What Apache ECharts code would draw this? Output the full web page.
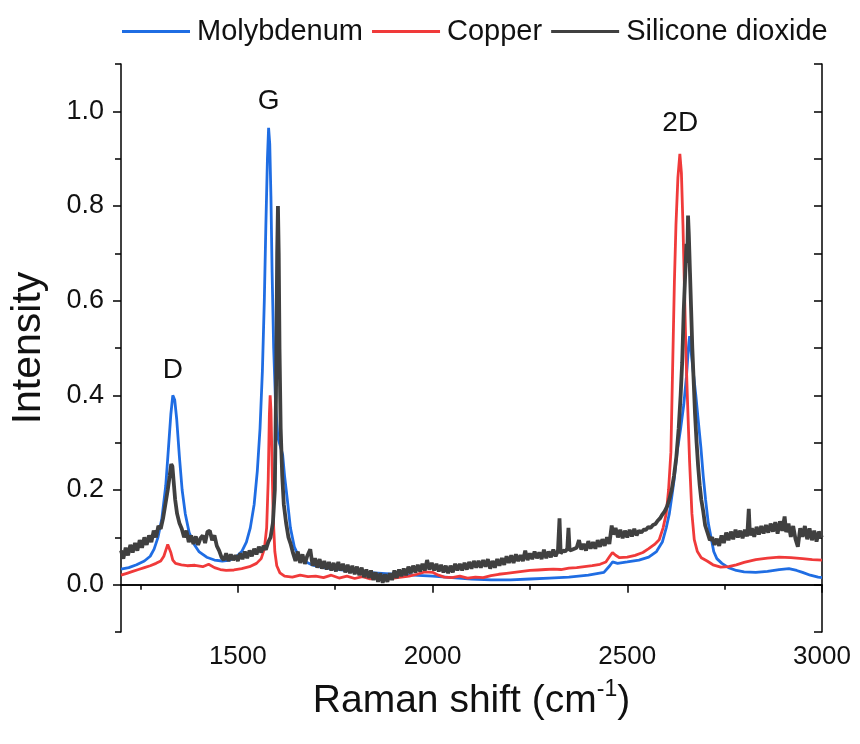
<!DOCTYPE html>
<html>
<head>
<meta charset="utf-8">
<script src="https://cdn.jsdelivr.net/npm/echarts@6/dist/echarts.min.js"></script>
<style>html,body{margin:0;padding:0;background:#fff}#c{width:860px;height:744px}</style>
</head>
<body>
<div id="c"></div>
<script>
// ---------- data ----------
var seriesNames = ['Molybdenum', 'Copper', 'Silicone dioxide'];

var molyX = [1200,1220,1240,1260,1275,1285,1295,1305,1315,1322,1328,1333,1338,1343,1350,1357,1365,1375,1388,1400,1420,1440,1460,1480,1495,1510,1522,1532,1542,1550,1557,1563,1568,1572,1576,1579,1582,1585,1588,1592,1597,1603,1610,1615,1620,1627,1635,1645,1655,1670,1690,1720,1760,1800,1850,1900,1950,2000,2050,2100,2150,2200,2250,2300,2350,2400,2440,2455,2462,2475,2500,2530,2555,2575,2590,2600,2608,2615,2620,2628,2637,2645,2652,2657,2660,2663,2668,2676,2683,2689,2695,2701,2708,2715,2722,2730,2743,2760,2780,2800,2830,2860,2890,2915,2935,2950,2970,2990,3000];
var molyY = [0.033,0.036,0.042,0.05,0.06,0.075,0.10,0.14,0.21,0.29,0.36,0.40,0.39,0.35,0.27,0.20,0.15,0.11,0.085,0.07,0.058,0.052,0.05,0.052,0.058,0.07,0.09,0.12,0.17,0.24,0.33,0.45,0.60,0.76,0.90,0.965,0.93,0.82,0.66,0.50,0.38,0.31,0.29,0.275,0.23,0.18,0.12,0.08,0.062,0.05,0.042,0.036,0.032,0.028,0.025,0.022,0.02,0.018,0.015,0.012,0.01,0.01,0.012,0.014,0.016,0.02,0.026,0.04,0.048,0.045,0.048,0.052,0.058,0.07,0.09,0.12,0.15,0.19,0.22,0.28,0.33,0.38,0.44,0.50,0.525,0.50,0.46,0.40,0.34,0.29,0.23,0.18,0.13,0.10,0.07,0.055,0.045,0.036,0.03,0.027,0.026,0.028,0.032,0.034,0.03,0.026,0.02,0.016,0.015];

var copperX = [1200,1215,1230,1245,1260,1275,1290,1302,1310,1316,1320,1324,1328,1333,1340,1355,1370,1390,1410,1425,1440,1455,1470,1490,1510,1530,1548,1560,1568,1574,1578,1581,1583,1585,1588,1591,1595,1600,1608,1620,1640,1660,1680,1700,1720,1740,1760,1780,1800,1820,1840,1860,1880,1900,1920,1940,1960,1980,2000,2015,2030,2050,2070,2090,2110,2130,2150,2170,2190,2210,2230,2250,2270,2290,2310,2330,2350,2370,2390,2410,2430,2445,2455,2462,2470,2480,2500,2520,2540,2555,2570,2582,2592,2600,2606,2612,2615,2618,2621,2625,2630,2635,2639,2643,2647,2651,2655,2660,2666,2672,2680,2690,2705,2720,2740,2760,2780,2800,2830,2860,2890,2920,2950,2975,3000];
var copperY = [0.02,0.024,0.028,0.032,0.036,0.04,0.045,0.05,0.06,0.075,0.085,0.082,0.068,0.052,0.045,0.042,0.04,0.041,0.038,0.043,0.036,0.032,0.03,0.031,0.034,0.038,0.045,0.055,0.075,0.12,0.22,0.36,0.40,0.37,0.25,0.14,0.07,0.04,0.025,0.018,0.016,0.02,0.017,0.018,0.015,0.02,0.014,0.018,0.013,0.017,0.012,0.015,0.011,0.014,0.016,0.018,0.022,0.027,0.026,0.02,0.016,0.015,0.018,0.014,0.016,0.015,0.019,0.022,0.024,0.026,0.028,0.03,0.031,0.032,0.033,0.032,0.035,0.036,0.038,0.04,0.043,0.048,0.06,0.068,0.062,0.057,0.058,0.062,0.068,0.076,0.085,0.095,0.12,0.15,0.2,0.28,0.40,0.52,0.64,0.76,0.86,0.91,0.87,0.76,0.62,0.48,0.38,0.26,0.15,0.095,0.07,0.057,0.05,0.042,0.037,0.038,0.042,0.047,0.053,0.056,0.058,0.057,0.055,0.053,0.052];

// Silicone dioxide spectrum as [Raman shift, intensity] pairs (noisy trace)
var silicaPts = [
[1200,0.072],[1206,0.055],[1212,0.078],[1218,0.062],[1224,0.084],[1230,0.068],[1236,0.088],[1242,0.072],[1248,0.094],[1254,0.078],[1260,0.1],[1266,0.084],[1272,0.104],[1278,0.09],[1284,0.114],[1290,0.1],[1296,0.124],
[1302,0.118],[1308,0.14],[1314,0.17],[1320,0.2],[1325,0.23],[1329,0.255],[1332,0.25],[1335,0.22],[1339,0.18],[1344,0.15],[1350,0.13],
[1356,0.118],[1362,0.1],[1368,0.114],[1374,0.09],[1380,0.104],[1386,0.086],[1392,0.102],[1398,0.084],[1404,0.098],[1410,0.104],[1416,0.088],[1422,0.112],[1428,0.114],[1434,0.094],[1440,0.104],[1446,0.082],[1452,0.072],[1458,0.058],[1464,0.052],[1470,0.066],[1476,0.05],[1482,0.064],[1488,0.052],[1494,0.062],[1500,0.05],[1506,0.066],[1512,0.054],[1518,0.07],[1524,0.056],[1530,0.072],[1536,0.06],[1542,0.076],[1548,0.064],[1554,0.08],[1560,0.068],[1566,0.082],[1572,0.074],[1578,0.09],[1584,0.1],
[1590,0.13],[1595,0.2],[1598,0.4],[1601,0.7],[1603,0.8],[1605,0.7],[1607,0.5],[1610,0.33],[1614,0.23],[1618,0.17],
[1624,0.13],[1630,0.1],[1636,0.085],[1642,0.066],[1648,0.05],[1654,0.07],[1660,0.046],[1666,0.064],[1672,0.044],[1678,0.06],[1686,0.075],
[1692,0.04],[1698,0.056],[1704,0.036],[1710,0.054],[1716,0.034],[1722,0.05],[1728,0.032],[1734,0.048],[1740,0.03],[1746,0.046],[1752,0.028],[1758,0.048],[1764,0.03],[1770,0.044],[1776,0.026],[1782,0.042],[1788,0.024],[1794,0.04],[1800,0.022],[1806,0.038],[1812,0.02],[1818,0.036],[1824,0.016],[1830,0.032],[1836,0.014],[1842,0.03],[1848,0.01],[1854,0.026],[1860,0.006],[1866,0.024],[1872,0.004],[1878,0.022],[1884,0.006],[1890,0.024],[1896,0.01],
[1902,0.03],[1908,0.014],[1914,0.032],[1920,0.018],[1926,0.034],[1932,0.02],[1938,0.038],[1944,0.024],[1950,0.04],[1956,0.026],[1962,0.042],[1968,0.028],[1974,0.044],[1980,0.03],[1986,0.052],[1992,0.032],[1998,0.046],[2004,0.03],[2010,0.044],[2016,0.028],[2022,0.042],[2028,0.026],[2034,0.04],[2040,0.024],[2046,0.04],[2052,0.026],[2058,0.044],[2064,0.03],[2070,0.044],[2076,0.03],[2082,0.046],[2088,0.032],[2094,0.048],[2100,0.034],
[2106,0.05],[2112,0.036],[2118,0.05],[2124,0.036],[2130,0.052],[2136,0.038],[2142,0.054],[2148,0.034],[2154,0.05],[2160,0.036],[2166,0.054],[2172,0.04],[2178,0.056],[2184,0.042],[2190,0.06],[2196,0.046],[2202,0.062],[2208,0.046],[2214,0.064],[2220,0.05],[2226,0.062],[2232,0.05],[2238,0.072],[2244,0.052],[2250,0.066],[2256,0.054],[2262,0.07],[2268,0.056],[2274,0.068],[2280,0.054],[2286,0.074],[2292,0.056],[2298,0.07],[2304,0.058],[2310,0.074],[2316,0.06],[2322,0.072],
[2326,0.14],[2329,0.066],[2335,0.072],[2341,0.07],[2346,0.076],[2349,0.12],[2352,0.072],[2358,0.074],[2364,0.076],[2370,0.078],[2376,0.094],[2382,0.074],[2388,0.086],[2394,0.072],[2400,0.092],[2406,0.076],[2412,0.09],[2418,0.076],[2424,0.094],[2430,0.08],[2436,0.096],[2442,0.082],[2448,0.1],[2454,0.086],
[2460,0.125],[2464,0.106],[2470,0.12],[2476,0.1],[2482,0.116],[2488,0.098],[2494,0.114],[2500,0.1],[2506,0.116],[2512,0.102],[2518,0.118],[2524,0.104],[2530,0.114],[2536,0.11],[2542,0.116],[2548,0.116],[2554,0.122],[2560,0.12],[2566,0.126],[2572,0.128],[2578,0.135],[2584,0.14],[2590,0.148],[2596,0.155],
[2602,0.165],[2608,0.18],[2614,0.2],[2620,0.23],[2626,0.27],[2632,0.33],[2637,0.4],[2641,0.47],[2645,0.58],[2649,0.66],[2652,0.72],[2654,0.68],[2656,0.78],[2658,0.74],[2661,0.66],[2664,0.58],[2667,0.5],[2670,0.44],[2674,0.36],[2678,0.3],[2682,0.25],[2686,0.21],[2690,0.18],[2695,0.155],[2700,0.125],
[2706,0.11],[2712,0.094],[2718,0.1],[2724,0.084],[2730,0.097],[2736,0.082],[2742,0.104],[2748,0.088],[2754,0.11],[2760,0.094],[2766,0.112],[2772,0.096],[2778,0.116],[2784,0.1],[2790,0.114],[2796,0.098],[2802,0.116],[2808,0.102],[2812,0.16],[2815,0.104],[2820,0.119],[2826,0.101],[2832,0.122],[2838,0.106],[2844,0.124],[2850,0.108],[2856,0.126],[2862,0.11],[2868,0.129],[2874,0.112],[2880,0.132],[2886,0.108],[2892,0.134],[2898,0.114],[2904,0.144],[2908,0.111],[2914,0.129],[2920,0.101],[2926,0.124],[2932,0.096],[2938,0.08],[2944,0.119],[2950,0.101],[2956,0.124],[2962,0.096],[2968,0.119],[2974,0.094],[2980,0.114],[2986,0.091],[2992,0.112],[3000,0.1]
];

var xMajorTicks = [1500, 2000, 2500, 3000];
var xMinorTicks = [1250, 1750, 2250, 2750];
var yMajorTicks = [0, 0.2, 0.4, 0.6, 0.8, 1.0];
var yMinorTicks = [-0.1, 0.1, 0.3, 0.5, 0.7, 0.9, 1.1];

var peakLabels = ['D', 'G', '2D'];
var peakLabelX = [1333, 1579, 2636];
var peakLabelY = [0.452, 1.022, 0.975];

var colors = ['#1f6de3', '#f03a3a', '#404040'];

// ---------- chart ----------
function zip(xs, ys) { return xs.map(function (x, i) { return [x, ys[i]]; }); }

var FONT = '"Liberation Sans", Arial, sans-serif';
var chart = echarts.init(document.getElementById('c'), null, { renderer: 'canvas' });

var XMIN = 1200, XMAX = 3000, YMIN = -0.1, YMAX = 1.1;
var axisLine = { show: true, lineStyle: { color: '#000', width: 1.5 } };

function xAx(pos, ticks, len, inside, labels, showLine) {
  return {
    type: 'value', position: pos, min: XMIN, max: XMAX,
    axisLine: showLine ? axisLine : { show: false },
    splitLine: { show: false },
    axisTick: { show: true, inside: inside, length: len, customValues: ticks, lineStyle: { color: '#000', width: 1.5 } },
    axisLabel: labels ? { show: true, customValues: ticks, fontSize: 26, color: '#111', margin: 12, fontFamily: FONT,
      formatter: function (v) { return String(v); } } : { show: false }
  };
}
function yAx(pos, ticks, len, inside, labels, showLine) {
  return {
    type: 'value', position: pos, min: YMIN, max: YMAX,
    axisLine: showLine ? axisLine : { show: false },
    splitLine: { show: false },
    axisTick: { show: true, inside: inside, length: len, customValues: ticks, lineStyle: { color: '#000', width: 1.5 } },
    axisLabel: labels ? { show: true, customValues: ticks, fontSize: 27, color: '#111', margin: 17, fontFamily: FONT,
      formatter: function (v) { return v.toFixed(1); } } : { show: false }
  };
}

var xAxes = [
  xAx('bottom', xMajorTicks, 8, false, true, true),
  xAx('bottom', xMinorTicks, 5, false, false, false),
  xAx('top', xMajorTicks, 8, true, false, true),
  xAx('top', xMinorTicks, 5, true, false, false)
];
xAxes[0].name = '{a|Raman shift (cm}{b|-1}{a|)}';
xAxes[0].nameLocation = 'middle';
xAxes[0].nameGap = 46;
xAxes[0].nameTextStyle = {
  rich: {
    a: { fontSize: 39, fontFamily: FONT, color: '#111', lineHeight: 46 },
    b: { fontSize: 23, fontFamily: FONT, color: '#111', verticalAlign: 'top', lineHeight: 26 }
  }
};

var yAxes = [
  yAx('left', yMajorTicks, 8, false, true, true),
  yAx('left', yMinorTicks, 6, false, false, false),
  yAx('right', yMajorTicks, 8, true, false, true),
  yAx('right', yMinorTicks, 8, true, false, false)
];
yAxes[0].name = 'Intensity';
yAxes[0].nameLocation = 'middle';
yAxes[0].nameGap = 72;
yAxes[0].nameTextStyle = { fontSize: 41, fontFamily: FONT, color: '#111' };

var seriesData = [zip(molyX, molyY), zip(copperX, copperY), silicaPts];
var lineWidths = [2.8, 2.8, 3.8];

var series = seriesNames.map(function (name, i) {
  return {
    name: name, type: 'line', data: seriesData[i],
    xAxisIndex: 0, yAxisIndex: 0,
    showSymbol: false, symbol: 'none',
    lineStyle: { color: colors[i], width: lineWidths[i] },
    itemStyle: { color: colors[i] },
    animation: false
  };
});
series[0].markPoint = {
  symbol: 'circle', symbolSize: 0, silent: true, animation: false,
  label: { show: true, position: 'inside', formatter: '{b}', fontSize: 28, color: '#111', fontFamily: FONT },
  data: peakLabels.map(function (t, i) { return { name: t, coord: [peakLabelX[i], peakLabelY[i]] }; })
};

chart.setOption({
  animation: false,
  textStyle: { fontFamily: FONT },
  color: colors,
  grid: { left: 120, right: 38, top: 64, bottom: 112, containLabel: false },
  legend: {
    data: seriesNames, left: 122, top: 17, icon: 'rect', itemWidth: 68, itemHeight: 3, itemGap: 9,
    padding: 0,
    textStyle: { fontSize: 29, color: '#111', fontFamily: FONT, padding: [0, 0, 0, 2] }
  },
  xAxis: xAxes,
  yAxis: yAxes,
  series: series
});
</script>
</body>
</html>
